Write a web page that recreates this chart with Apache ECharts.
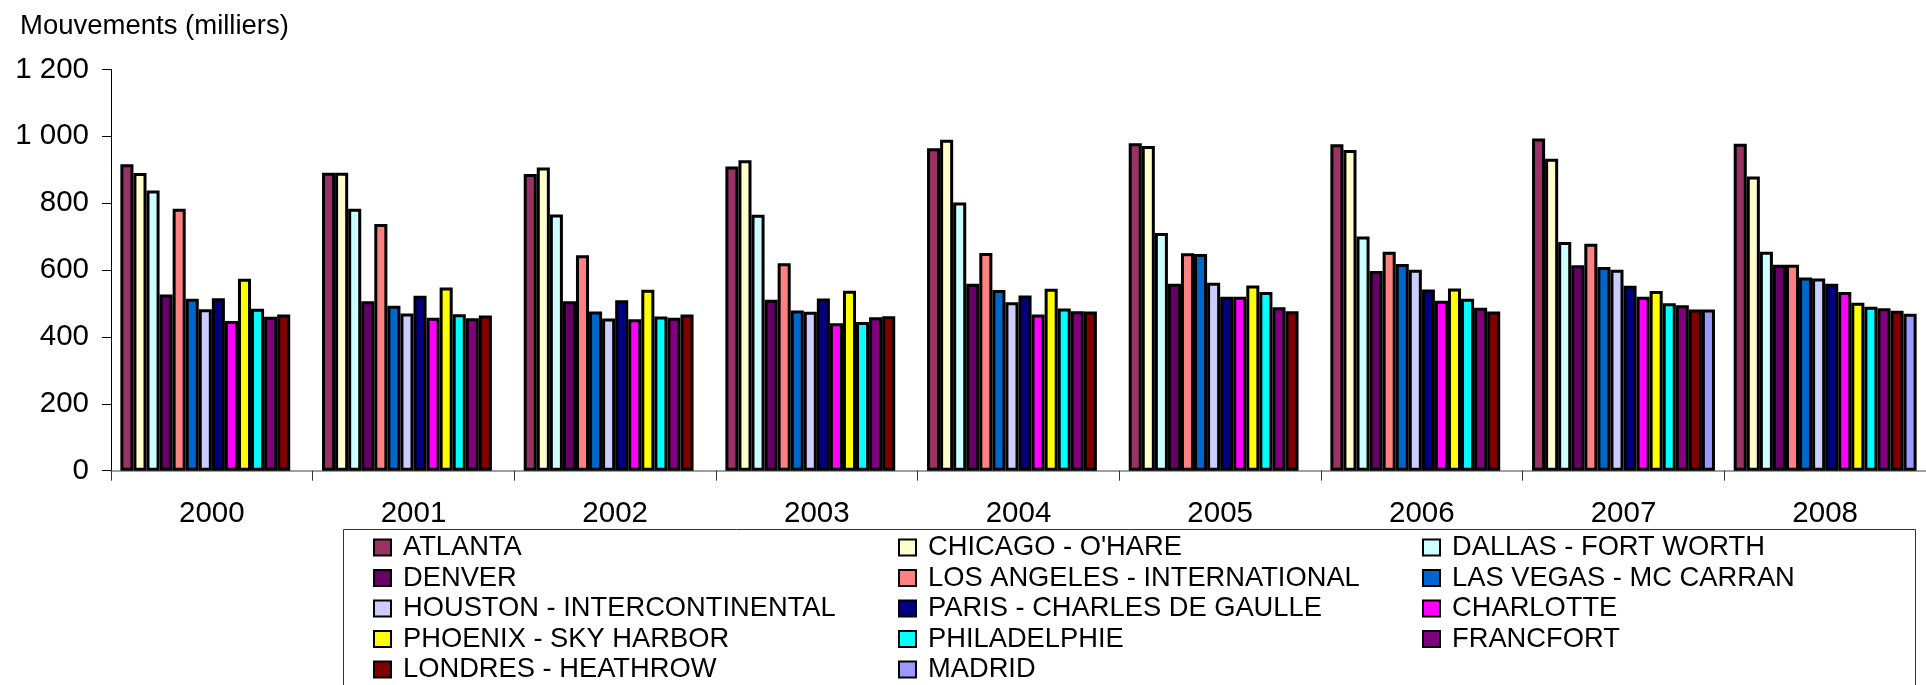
<!DOCTYPE html>
<html>
<head>
<meta charset="utf-8">
<script src="https://cdn.jsdelivr.net/npm/echarts@6/dist/echarts.min.js"></script>
<style>
html,body{margin:0;padding:0;background:#fff;}
#chart{width:1926px;height:685px;}
</style>
</head>
<body>
<div id="chart"></div>
<script>
// ---- Data (thousands of aircraft movements) ----
const years = ['2000','2001','2002','2003','2004','2005','2006','2007','2008'];
const yTicks = [0, 200, 400, 600, 800, 1000, 1200];
const airports = ['ATLANTA','CHICAGO - O\'HARE','DALLAS - FORT WORTH','DENVER','LOS ANGELES - INTERNATIONAL','LAS VEGAS - MC CARRAN','HOUSTON - INTERCONTINENTAL','PARIS - CHARLES DE GAULLE','CHARLOTTE','PHOENIX - SKY HARBOR','PHILADELPHIE','FRANCFORT','LONDRES - HEATHROW','MADRID'];
const atlanta      = [916, 891, 887, 910, 964, 979, 976, 993, 978];
const chicago      = [890, 891, 907, 928, 990, 971, 959, 933, 880];
const dallas       = [838, 783, 766, 765, 802, 711, 700, 684, 655];
const denver       = [527, 507, 507, 511, 559, 559, 597, 614, 616];
const losAngeles   = [783, 738, 644, 620, 651, 650, 655, 679, 616];
const lasVegas     = [514, 493, 476, 479, 540, 648, 618, 609, 578];
const houston      = [483, 470, 455, 475, 504, 562, 601, 601, 575];
const paris        = [516, 523, 510, 515, 524, 520, 542, 553, 559];
const charlotte    = [448, 457, 453, 441, 467, 520, 508, 520, 534];
const phoenix      = [574, 548, 541, 538, 544, 554, 545, 537, 502];
const philadelphie = [484, 468, 461, 445, 485, 534, 514, 501, 490];
const francfort    = [460, 456, 457, 459, 477, 489, 487, 495, 486];
const londres      = [467, 464, 467, 462, 476, 477, 476, 482, 478];
const madrid       = [null, null, null, null, null, null, null, 482, 469];

const seriesValues = [atlanta, chicago, dallas, denver, losAngeles, lasVegas, houston, paris, charlotte, phoenix, philadelphie, francfort, londres, madrid];
const palette = ['#993366','#FFFFCC','#CCFFFF','#660066','#FF8080','#0066CC','#CCCCFF','#000080','#FF00FF','#FFFF00','#00FFFF','#800080','#800000','#9999FF'];

const FONT = '"Liberation Sans", Arial, sans-serif';

function fmt(v){
  if (v >= 1000) return Math.floor(v/1000) + ' ' + String(v % 1000).padStart(3,'0');
  return String(v);
}

const series = seriesValues.map((vals, i) => ({
  name: airports[i],
  type: 'bar',
  data: vals,
  barGap: '0%',
  barCategoryGap: '9.3%',
  itemStyle: { color: palette[i], borderColor: '#000', borderWidth: 3 },
  emphasis: { disabled: true },
  animation: false
}));

const legendCols = [
  [airports[0], airports[3], airports[6], airports[9], airports[12]],
  [airports[1], airports[4], airports[7], airports[10], airports[13]],
  [airports[2], airports[5], airports[8], airports[11]]
];
const legendLefts = [373, 898, 1422];

const legends = legendCols.map((col, i) => ({
  data: col,
  orient: 'vertical',
  left: legendLefts[i],
  top: 534,
  padding: 0,
  itemGap: 3.5,
  itemWidth: 17,
  itemHeight: 16,
  icon: 'rect',
  selectedMode: false,
  itemStyle: { borderColor: '#000', borderWidth: 2 },
  textStyle: { fontFamily: FONT, fontSize: 27.3, color: '#000', padding: [0, 0, 0, 7] }
}));

const chart = echarts.init(document.getElementById('chart'), null, { renderer: 'canvas' });
chart.setOption({
  backgroundColor: '#fff',
  animation: false,
  grid: { left: 111, top: 69.4, width: 1828, height: 401.3, containLabel: false },
  graphic: [
    { type: 'text', left: 20, top: 12, style: { text: 'Mouvements (milliers)', font: '27.5px ' + FONT, fill: '#000' } },
    { type: 'rect', shape: { x: 343.5, y: 529.5, width: 1572, height: 200 }, style: { fill: 'none', stroke: '#333', lineWidth: 1 }, z: 0 }
  ],
  legend: legends,
  xAxis: {
    type: 'category',
    data: years,
    axisLine: { lineStyle: { color: '#808080', width: 1.5 } },
    axisTick: { show: true, length: 10, lineStyle: { color: '#333', width: 1 } },
    axisLabel: { fontFamily: FONT, fontSize: 29.5, color: '#000', margin: 28 },
    splitLine: { show: false }
  },
  yAxis: {
    type: 'value',
    min: yTicks[0],
    max: yTicks[yTicks.length - 1],
    interval: yTicks[1] - yTicks[0],
    axisLine: { show: true, lineStyle: { color: '#000', width: 1 } },
    axisTick: { show: true, length: 9, lineStyle: { color: '#000', width: 1 } },
    axisLabel: { fontFamily: FONT, fontSize: 29.5, color: '#000', margin: 22, formatter: fmt },
    splitLine: { show: false }
  },
  series: series
});
</script>
</body>
</html>
